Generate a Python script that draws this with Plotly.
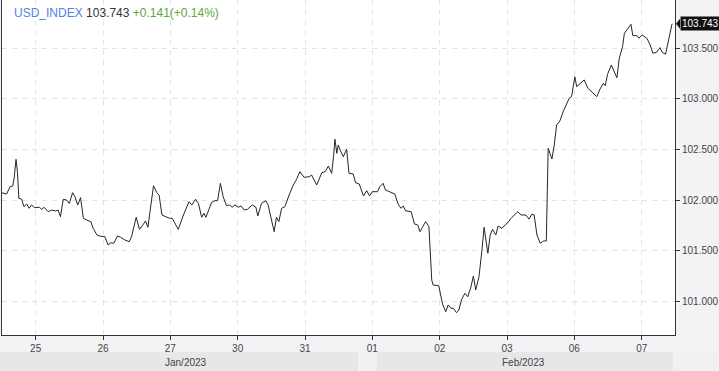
import plotly.graph_objects as go

# ---- data ----
times = [
    "2023-01-24 11:50", "2023-01-24 13:40", "2023-01-24 14:50", "2023-01-24 15:50", "2023-01-24 16:20",
    "2023-01-24 17:00", "2023-01-24 17:30", "2023-01-24 18:00", "2023-01-24 19:00", "2023-01-24 19:50",
    "2023-01-24 20:50", "2023-01-24 21:40", "2023-01-24 22:30", "2023-01-24 23:40",
    "2023-01-25 01:20", "2023-01-25 02:10", "2023-01-25 03:00", "2023-01-25 04:30", "2023-01-25 05:40",
    "2023-01-25 07:10", "2023-01-25 08:00", "2023-01-25 08:50", "2023-01-25 09:50", "2023-01-25 11:00",
    "2023-01-25 12:00", "2023-01-25 13:10", "2023-01-25 14:00", "2023-01-25 15:00", "2023-01-25 16:00",
    "2023-01-25 17:00", "2023-01-25 18:10", "2023-01-25 19:40", "2023-01-25 20:30", "2023-01-25 21:50",
    "2023-01-25 22:50",
    "2023-01-26 00:40", "2023-01-26 01:50", "2023-01-26 02:50", "2023-01-26 03:50", "2023-01-26 05:10",
    "2023-01-26 06:20", "2023-01-26 07:50", "2023-01-26 09:20", "2023-01-26 10:10", "2023-01-26 11:50",
    "2023-01-26 13:00", "2023-01-26 14:10", "2023-01-26 15:10", "2023-01-26 16:00", "2023-01-26 16:50",
    "2023-01-26 18:00", "2023-01-26 19:10", "2023-01-26 20:00", "2023-01-26 21:00", "2023-01-26 22:20",
    "2023-01-26 23:40",
    "2023-01-27 00:40", "2023-01-27 02:50", "2023-01-27 04:40", "2023-01-27 06:40", "2023-01-27 07:40",
    "2023-01-27 09:00", "2023-01-27 10:00", "2023-01-27 11:10", "2023-01-27 12:00", "2023-01-27 12:40",
    "2023-01-27 14:40", "2023-01-27 15:50", "2023-01-27 16:50", "2023-01-27 17:50", "2023-01-27 18:50",
    "2023-01-27 20:00", "2023-01-27 21:10", "2023-01-27 22:00", "2023-01-27 23:00",
    "2023-01-30 00:10", "2023-01-30 01:10", "2023-01-30 02:20", "2023-01-30 03:30", "2023-01-30 05:10",
    "2023-01-30 06:30", "2023-01-30 07:10", "2023-01-30 08:30", "2023-01-30 10:00", "2023-01-30 10:50",
    "2023-01-30 11:50", "2023-01-30 13:00", "2023-01-30 13:50", "2023-01-30 14:40", "2023-01-30 15:40",
    "2023-01-30 16:50", "2023-01-30 18:20", "2023-01-30 19:50", "2023-01-30 21:00", "2023-01-30 22:10",
    "2023-01-30 23:40",
    "2023-01-31 01:30", "2023-01-31 02:20", "2023-01-31 04:10", "2023-01-31 06:00", "2023-01-31 07:10",
    "2023-01-31 08:20", "2023-01-31 09:30", "2023-01-31 10:10", "2023-01-31 10:40", "2023-01-31 11:20",
    "2023-01-31 11:50", "2023-01-31 12:30", "2023-01-31 13:40", "2023-01-31 14:50", "2023-01-31 15:40",
    "2023-01-31 17:10", "2023-01-31 18:00", "2023-01-31 19:20", "2023-01-31 20:50", "2023-01-31 22:00",
    "2023-01-31 23:00",
    "2023-02-01 00:00", "2023-02-01 01:50", "2023-02-01 02:40", "2023-02-01 03:50", "2023-02-01 04:40",
    "2023-02-01 06:20", "2023-02-01 08:00", "2023-02-01 09:10", "2023-02-01 10:10", "2023-02-01 11:00",
    "2023-02-01 11:50", "2023-02-01 13:50", "2023-02-01 15:00", "2023-02-01 16:10", "2023-02-01 17:00",
    "2023-02-01 17:50", "2023-02-01 19:00", "2023-02-01 20:10", "2023-02-01 21:10", "2023-02-01 21:40",
    "2023-02-01 23:40",
    "2023-02-02 01:00", "2023-02-02 02:10", "2023-02-02 03:00", "2023-02-02 04:00", "2023-02-02 04:50",
    "2023-02-02 06:00", "2023-02-02 06:50", "2023-02-02 07:50", "2023-02-02 09:00", "2023-02-02 10:00",
    "2023-02-02 11:10", "2023-02-02 12:00", "2023-02-02 12:50", "2023-02-02 14:00", "2023-02-02 15:00",
    "2023-02-02 15:50", "2023-02-02 17:10", "2023-02-02 18:00", "2023-02-02 18:50", "2023-02-02 20:00",
    "2023-02-02 20:50", "2023-02-02 22:10", "2023-02-02 23:20",
    "2023-02-03 00:40", "2023-02-03 01:10", "2023-02-03 03:50", "2023-02-03 05:00", "2023-02-03 06:40",
    "2023-02-03 07:50", "2023-02-03 08:50", "2023-02-03 09:40", "2023-02-03 10:40", "2023-02-03 11:50",
    "2023-02-03 13:00", "2023-02-03 14:00", "2023-02-03 14:30", "2023-02-03 14:40", "2023-02-03 16:00",
    "2023-02-03 16:50", "2023-02-03 17:40", "2023-02-03 18:50", "2023-02-03 20:00", "2023-02-03 21:20",
    "2023-02-03 22:10", "2023-02-03 23:00",
    "2023-02-06 00:10", "2023-02-06 00:50", "2023-02-06 02:20", "2023-02-06 03:30", "2023-02-06 04:50",
    "2023-02-06 06:30", "2023-02-06 08:00", "2023-02-06 09:10", "2023-02-06 10:20", "2023-02-06 11:00",
    "2023-02-06 11:50", "2023-02-06 13:10", "2023-02-06 14:20", "2023-02-06 15:10", "2023-02-06 16:00",
    "2023-02-06 17:10", "2023-02-06 17:50", "2023-02-06 19:00", "2023-02-06 20:10", "2023-02-06 20:50",
    "2023-02-06 22:20", "2023-02-06 23:00",
    "2023-02-07 00:10", "2023-02-07 01:50", "2023-02-07 03:00", "2023-02-07 04:00", "2023-02-07 05:20",
    "2023-02-07 06:30", "2023-02-07 07:20", "2023-02-07 08:30", "2023-02-07 09:40", "2023-02-07 10:50",
]

values = [
    102.073, 102.060, 102.132, 102.139, 102.218,
    102.403, 102.281, 102.018, 102.008, 101.935,
    101.961, 101.919, 101.952, 101.925,
    101.929, 101.909, 101.929, 101.885, 101.902,
    101.892, 101.902, 101.836, 102.008, 102.001,
    101.968, 102.073, 102.034, 101.952, 102.024,
    101.820, 101.803, 101.787, 101.721, 101.655,
    101.645,
    101.638, 101.556, 101.579, 101.573, 101.645,
    101.632, 101.606, 101.589, 101.638, 101.830,
    101.711, 101.754, 101.793, 101.731, 101.885,
    102.142, 102.073, 102.050, 101.853, 101.836,
    101.820,
    101.820, 101.711, 101.853, 101.984, 101.952,
    102.008, 101.968, 101.830, 101.870, 101.830,
    101.974, 101.994, 101.994, 102.166, 102.034,
    101.945, 101.952, 101.929, 101.952,
    101.929, 101.942, 101.902, 101.909, 101.952,
    101.929, 101.843, 101.968, 101.994, 101.952,
    101.830, 101.688, 101.830, 101.787, 101.919,
    101.935, 102.050, 102.149, 102.206, 102.281,
    102.225,
    102.231, 102.248, 102.149, 102.271, 102.281,
    102.337, 102.265, 102.429, 102.601, 102.462,
    102.544, 102.495, 102.429, 102.502, 102.265,
    102.258, 102.172, 102.159, 102.041, 102.093,
    102.041,
    102.083, 102.083, 102.132, 102.166, 102.100,
    102.083, 102.060, 101.961, 101.919, 101.942,
    101.895, 101.885, 101.764, 101.754, 101.688,
    101.731, 101.787, 101.737, 101.210, 101.161,
    101.154,
    100.973, 100.897, 100.963, 100.931, 100.931,
    100.887, 100.914, 101.020, 101.079, 101.045,
    101.144, 101.250, 101.112, 101.243, 101.490,
    101.731, 101.474, 101.655, 101.711, 101.655,
    101.744, 101.721, 101.754,
    101.787, 101.813, 101.885, 101.853, 101.853,
    101.813, 101.860, 101.853, 101.655, 101.573,
    101.596, 101.596, 102.281, 102.512, 102.406,
    102.544, 102.742, 102.782, 102.874, 102.947,
    103.006, 103.022,
    103.219, 103.121, 103.154, 103.187, 103.105,
    103.065, 103.022, 103.098, 103.154, 103.130,
    103.243, 103.335, 103.269, 103.209, 103.401,
    103.516, 103.648, 103.691, 103.737, 103.625,
    103.625, 103.599,
    103.631, 103.599, 103.533, 103.451, 103.460,
    103.506, 103.460, 103.441, 103.582, 103.743,
]

tick_dates = ["2023-01-25", "2023-01-26", "2023-01-27", "2023-01-30", "2023-01-31",
              "2023-02-01", "2023-02-02", "2023-02-03", "2023-02-06", "2023-02-07"]
tick_labels = ["25", "26", "27", "30", "31", "01", "02", "03", "06", "07"]
month_labels = ["Jan/2023", "Feb/2023"]
y_ticks = [101.0, 101.5, 102.0, 102.5, 103.0, 103.5]

symbol = "USD_INDEX"
last_price = 103.743
change = 0.141
change_pct = 0.14

FONT = "Liberation Sans, Arial, sans-serif"
PLOT_H = 335.0
PLOT_W = 673.0

fig = go.Figure()
fig.add_trace(go.Scatter(
    x=times, y=values, mode="lines",
    line=dict(color="#262626", width=1),
    hoverinfo="skip", showlegend=False,
))

shapes = []
# month band row
shapes.append(dict(type="rect", xref="paper", yref="paper",
                   x0=-2 / PLOT_W, x1=(719 - 2) / PLOT_W,
                   y0=(PLOT_H - 371) / PLOT_H, y1=(PLOT_H - 352) / PLOT_H,
                   fillcolor="#f1f1f3", line=dict(width=0), layer="below"))
shapes.append(dict(type="rect", xref="paper", yref="paper",
                   x0=-2 / PLOT_W, x1=(358 - 2) / PLOT_W,
                   y0=(PLOT_H - 371) / PLOT_H, y1=(PLOT_H - 352) / PLOT_H,
                   fillcolor="#e7e7e9", line=dict(width=0), layer="below"))
shapes.append(dict(type="rect", xref="paper", yref="paper",
                   x0=(377 - 2) / PLOT_W, x1=(673 - 2) / PLOT_W,
                   y0=(PLOT_H - 371) / PLOT_H, y1=(PLOT_H - 352) / PLOT_H,
                   fillcolor="#e7e7e9", line=dict(width=0), layer="below"))
# last-price pointer triangle
shapes.append(dict(type="path", xref="paper", yref="y",
                   path=(f"M {1 + 1 / PLOT_W},{last_price} "
                         f"L {1 + 5 / PLOT_W},{last_price + 5 / 101.2} "
                         f"L {1 + 5 / PLOT_W},{last_price - 5 / 101.2} Z"),
                   fillcolor="#111111", line=dict(width=0)))

annotations = [
    dict(xref="paper", yref="paper", x=10 / PLOT_W, y=(PLOT_H - 13) / PLOT_H,
         xanchor="left", yanchor="middle", showarrow=False,
         text=(f"<span style='color:#4f83e3'>{symbol}</span> "
               f"<span style='color:#333333'>{last_price:.3f}</span> "
               f"<span style='color:#5aa832'>+{change:.3f}(+{change_pct:.2f}%)</span>"),
         font=dict(family=FONT, size=12)),
    dict(xref="paper", yref="y", x=1, y=last_price, xshift=5,
         xanchor="left", yanchor="middle", showarrow=False,
         text=f"{last_price:.3f}", bgcolor="#111111", borderpad=1,
         font=dict(family=FONT, size=10, color="#ffffff")),
    dict(xref="paper", yref="paper", x=(186 - 2) / PLOT_W, y=(PLOT_H - 362) / PLOT_H,
         xanchor="center", yanchor="middle", showarrow=False,
         text=month_labels[0], font=dict(family=FONT, size=10, color="#444444")),
    dict(xref="paper", yref="paper", x=(523 - 2) / PLOT_W, y=(PLOT_H - 362) / PLOT_H,
         xanchor="center", yanchor="middle", showarrow=False,
         text=month_labels[1], font=dict(family=FONT, size=10, color="#444444")),
]

fig.update_layout(
    width=719, height=371,
    margin=dict(l=2, r=44, t=0, b=36, pad=0),
    paper_bgcolor="#f3f3f5", plot_bgcolor="#ffffff",
    shapes=shapes, annotations=annotations,
    font=dict(family=FONT, size=10, color="#444444"),
)
fig.update_xaxes(
    type="date",
    range=["2023-01-24 12:00", "2023-02-07 11:52"],
    rangebreaks=[dict(bounds=["sat", "mon"])],
    tickvals=tick_dates, ticktext=tick_labels,
    showgrid=True, gridcolor="#e3e3e3", griddash="5px,5px", gridwidth=1,
    showline=True, linecolor="#333333", linewidth=1,
    ticks="outside", ticklen=4, tickcolor="#333333",
    tickfont=dict(family=FONT, size=10, color="#444444"),
    zeroline=False, fixedrange=True,
)
fig.update_yaxes(
    side="right", range=[100.667, 103.977],
    tickvals=y_ticks, tickformat=".3f",
    showgrid=True, gridcolor="#e3e3e3", griddash="5px,5px", gridwidth=1,
    showline=True, linecolor="#333333", linewidth=1, mirror=True,
    ticks="outside", ticklen=4, tickcolor="#333333",
    tickfont=dict(family=FONT, size=10, color="#444444"),
    zeroline=False, fixedrange=True,
)

fig.write_html("out.html", config={"displayModeBar": False})
